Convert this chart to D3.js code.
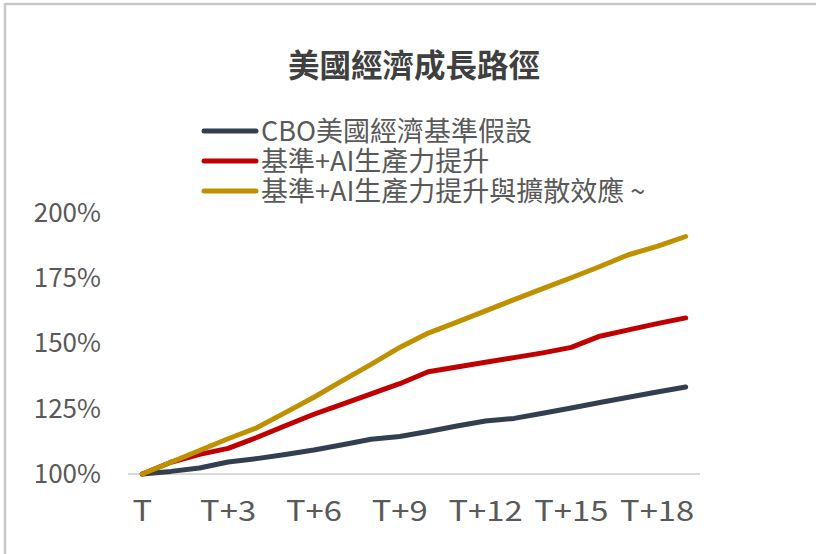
<!DOCTYPE html>
<html>
<head>
<meta charset="utf-8">
<script src="https://cdn.jsdelivr.net/npm/d3@7"></script>
<style>
  body { margin: 0; background: #fff; }
  text { font-family: "Noto Sans CJK TC", "Noto Sans", sans-serif; }
</style>
</head>
<body>
<div id="chart"></div>
<script>
// categories T .. T+19, only every 3rd one gets a label
var periods = d3.range(20).map(function(i) { return i == 0 ? "T" : "T+" + i; });
var tickLabels = ["T", "T+3", "T+6", "T+9", "T+12", "T+15", "T+18"];
var yTicks = [1.00, 1.25, 1.50, 1.75, 2.00];

var seriesNames = ["CBO美國經濟基準假設", "基準+AI生產力提升", "基準+AI生產力提升與擴散效應 ~"];
var seriesColors = ["#333f50", "#c00000", "#bf9000"];

var cboBase = [1.000, 1.010, 1.023, 1.046, 1.059, 1.075, 1.092, 1.112, 1.133, 1.144,
               1.163, 1.184, 1.203, 1.213, 1.233, 1.253, 1.274, 1.294, 1.314, 1.333];
var aiBoost = [1.000, 1.045, 1.075, 1.098, 1.140, 1.185, 1.229, 1.268, 1.307, 1.346,
               1.392, 1.410, 1.428, 1.446, 1.464, 1.485, 1.528, 1.552, 1.576, 1.598];
var aiDiffusion = [1.000, 1.045, 1.090, 1.135, 1.177, 1.235, 1.294, 1.358, 1.420, 1.485,
                   1.540, 1.582, 1.625, 1.668, 1.710, 1.752, 1.795, 1.840, 1.872, 1.910];

var width = 816, height = 554;
var svg = d3.select("#chart").append("svg")
    .attr("width", width)
    .attr("height", height);

// outer frame (only top and left edges show)
svg.append("line").attr("x1", 5).attr("x2", 5).attr("y1", 3).attr("y2", height)
    .attr("stroke", "#c8c8c8").attr("stroke-width", 2.5);
svg.append("line").attr("x1", 5).attr("x2", width).attr("y1", 4).attr("y2", 4)
    .attr("stroke", "#c8c8c8").attr("stroke-width", 2.5);

// title
svg.append("text")
    .attr("x", 414).attr("y", 77)
    .attr("text-anchor", "middle")
    .attr("font-size", 31.5)
    .attr("font-weight", "bold")
    .attr("fill", "#404040")
    .text("美國經濟成長路徑");

var x = d3.scaleBand().domain(periods).range([128, 700]);
var y = d3.scaleLinear().domain([1, 2]).range([474, 213]);

// baseline
svg.append("line")
    .attr("x1", 128).attr("x2", 700)
    .attr("y1", y(1)).attr("y2", y(1))
    .attr("stroke", "#d9d9d9").attr("stroke-width", 2);

// y tick labels
var yAxis = svg.append("g")
    .attr("transform", "translate(101,0)")
    .call(d3.axisLeft(y).tickValues(yTicks).tickSize(0).tickPadding(0)
        .tickFormat(d3.format(".0%")));
yAxis.select(".domain").remove();
yAxis.selectAll("text")
    .attr("font-size", 26)
    .attr("fill", "#595959")
    .attr("font-family", "'Noto Sans', sans-serif");

// x tick labels, stretched a little like the original
var xAxis = svg.append("g")
    .attr("transform", "translate(0,474)")
    .call(d3.axisBottom(x).tickValues(tickLabels).tickSize(0).tickPadding(27));
xAxis.select(".domain").remove();
xAxis.selectAll("text")
    .attr("font-size", 28)
    .attr("fill", "#595959")
    .attr("transform", "scale(1.17,1)")
    .attr("font-family", "'Noto Sans', sans-serif");

var line = d3.line()
    .x(function(d, i) { return x(periods[i]) + x.bandwidth() / 2; })
    .y(function(d) { return y(d); });

// draw bottom series first so the gold one sits on top
var allSeries = [cboBase, aiBoost, aiDiffusion];
allSeries.forEach(function(data, k) {
    svg.append("path")
        .datum(data)
        .attr("d", line)
        .attr("fill", "none")
        .attr("stroke", seriesColors[k])
        .attr("stroke-width", 5)
        .attr("stroke-linecap", "round")
        .attr("stroke-linejoin", "round");
});

// legend, last entry is cut off at the right
svg.append("clipPath").attr("id", "legclip")
    .append("rect").attr("x", 0).attr("y", 0).attr("width", 660).attr("height", height);

var legend = svg.append("g").attr("clip-path", "url(#legclip)");
seriesNames.forEach(function(name, k) {
    var ly = 131 + k * 30;
    legend.append("line")
        .attr("x1", 204).attr("x2", 256)
        .attr("y1", ly).attr("y2", ly)
        .attr("stroke", seriesColors[k])
        .attr("stroke-width", 5)
        .attr("stroke-linecap", "round");
    legend.append("text")
        .attr("x", 261).attr("y", ly + 10)
        .attr("font-size", 27)
        .attr("fill", "#595959")
        .text(name);
});
</script>
</body>
</html>
